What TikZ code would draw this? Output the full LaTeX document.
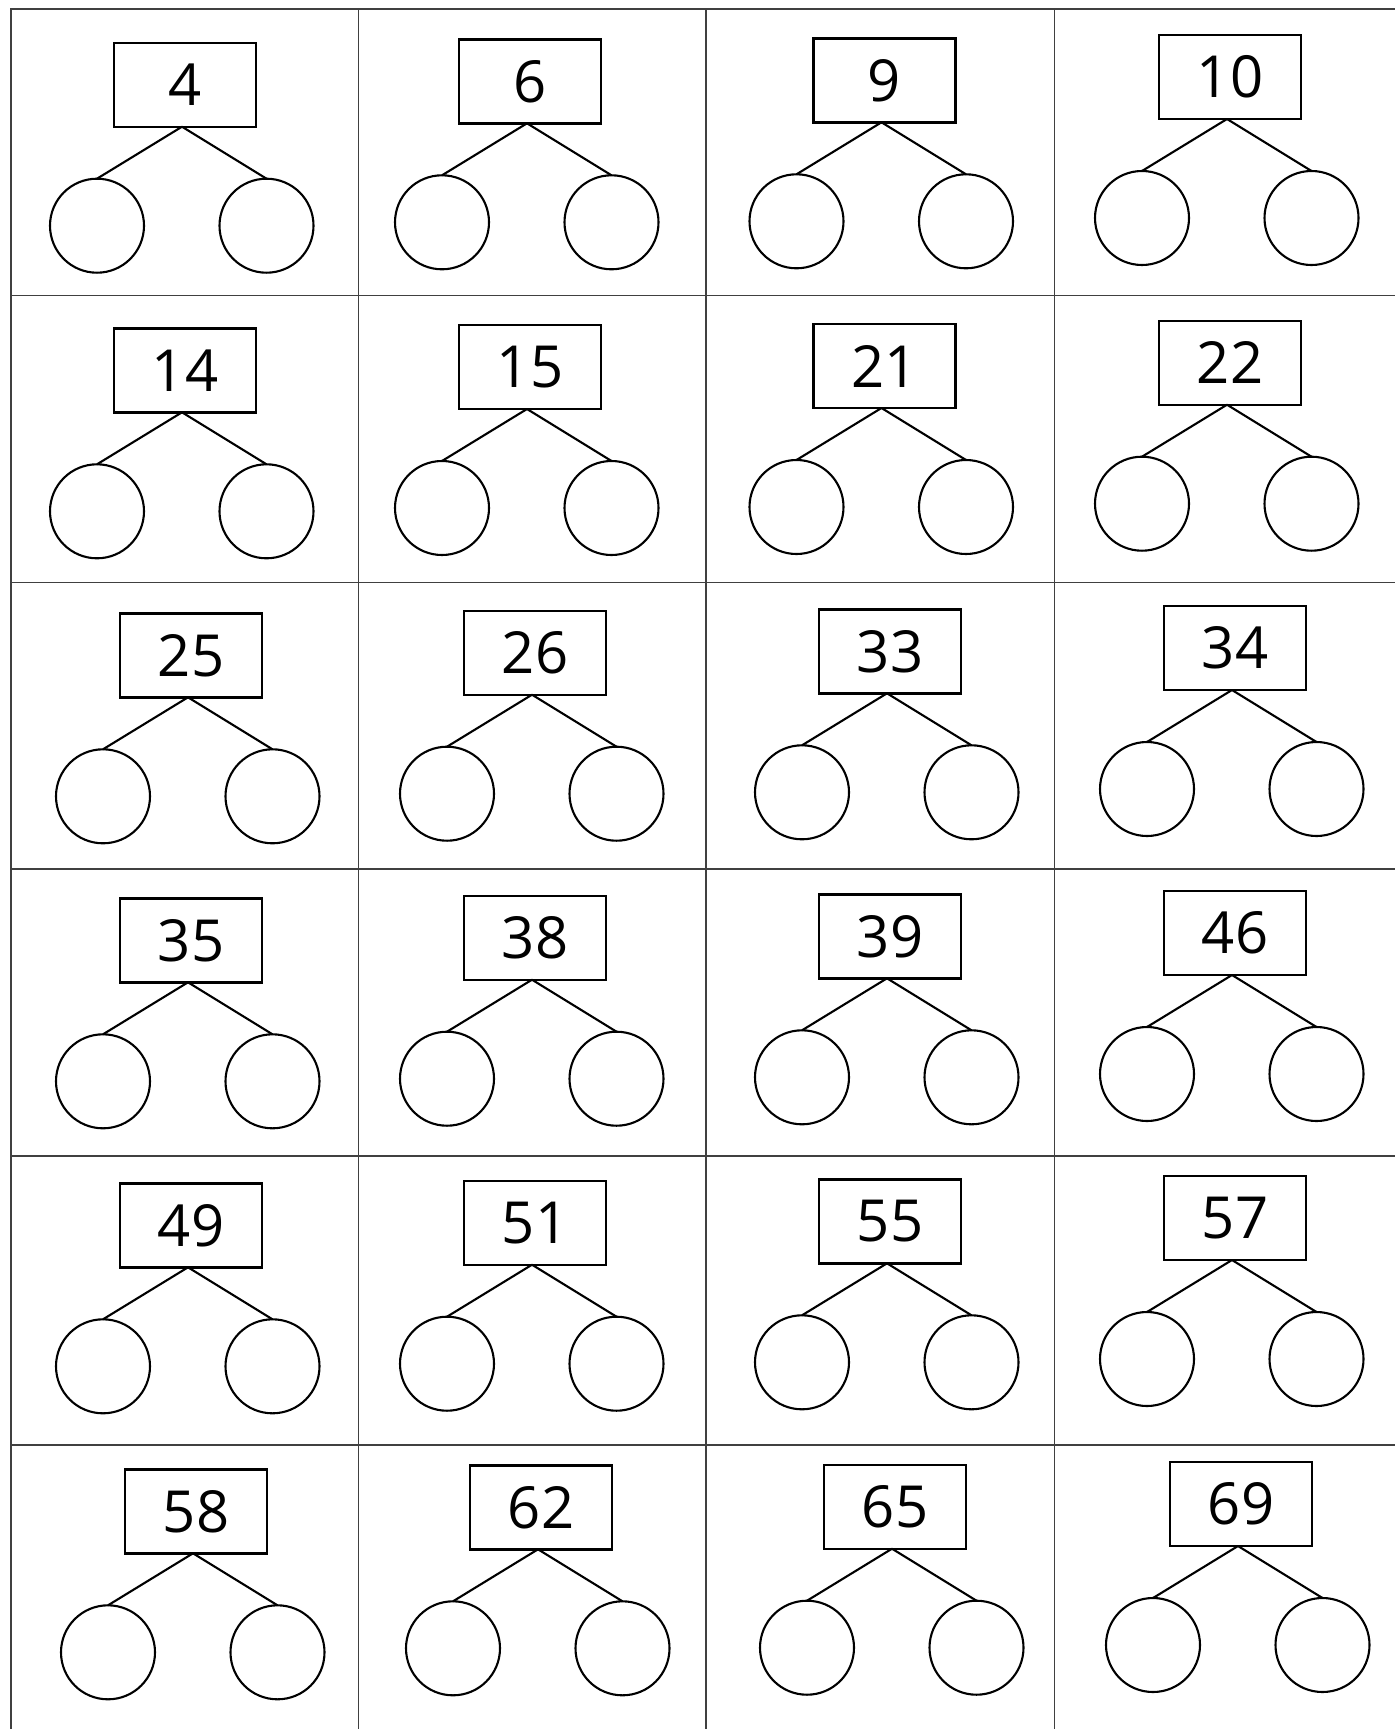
\documentclass[tikz,border=0pt]{standalone}
\usepackage{fontspec}
\setmainfont{Open Sans}
\begin{document}
\begin{tikzpicture}[x=0.5pt,y=-0.5pt,
  numbox/.style={draw, line width=1.2pt, rectangle, minimum width=71pt, minimum height=42pt, inner sep=0pt, outer sep=0pt, font=\fontsize{29}{30}\selectfont},
  part/.style={draw, line width=1.05pt, circle, minimum size=47pt, inner sep=0pt, outer sep=0pt},
  link/.style={line width=1.05pt},
  gridline/.style={line width=0.8pt, draw=black!75}]
\useasboundingbox (0,0) rectangle (1395,1729);
\fill[white] (0,0) rectangle (1395,1729);
% grid
\draw[gridline] (11,1729) -- (11,9) -- (1395,9);
\foreach \gx in {358.4,705.8,1054.3} {\draw[gridline] (\gx,9) -- (\gx,1729);}
\foreach \gy in {295.5,582.3,869,1155.7,1444.7} {\draw[gridline] (11,\gy) -- (1395,\gy);}
% bonds
\foreach \bx/\by/\lab/\id in {
  114/42.7/4/a1, 459/39.3/6/a2, 813.5/38.3/9/a3, 1159/35/10/a4,
  114/328.3/14/b1, 459/325/15/b2, 813.5/324/21/b3, 1159/320.7/22/b4,
  120/613.3/25/c1, 464/610.7/26/c2, 819/609.3/33/c3, 1164/606/34/c4,
  120/898.3/35/d1, 464/895.7/38/d2, 819/894.3/39/d3, 1164/891/46/d4,
  120/1183.3/49/e1, 464/1180.7/51/e2, 819/1179.3/55/e3, 1164/1176/57/e4,
  125/1469.3/58/f1, 470/1465.3/62/f2, 824/1464.7/65/f3, 1170/1462/69/f4} {
  \node[numbox] (b\id) at (\bx+71,\by+42) {\lab};
  \node[part] (l\id) at (\bx-17,\by+183) {};
  \node[part] (r\id) at (\bx+152.5,\by+183) {};
  \draw[link] ([xshift=-1.5pt]b\id.south) -- (l\id.north);
  \draw[link] ([xshift=-1.5pt]b\id.south) -- (r\id.north);
}
\end{tikzpicture}
\end{document}
